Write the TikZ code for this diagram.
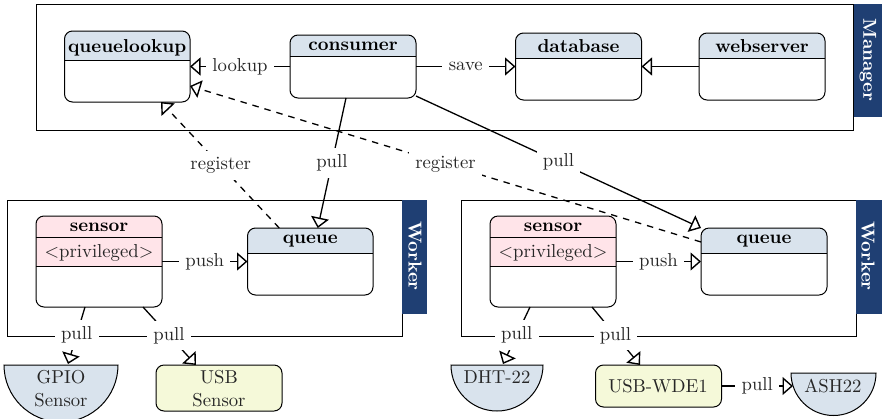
\documentclass[tikz,border=0pt]{standalone}
\usetikzlibrary{arrows.meta}
\definecolor{hdr}{HTML}{D9E3ED}
\definecolor{pinkh}{HTML}{FFE4E9}
\definecolor{yel}{HTML}{F5F9D9}
\definecolor{tabb}{HTML}{1F3F73}
\tikzset{
  every node/.style={text=black!85},
  frame/.style={draw=black,line width=1pt,inner sep=0pt,outer sep=0pt,anchor=north west},
  boxo/.style={frame,rounded corners=8pt},
  ttl/.style={anchor=base,inner sep=0pt,scale=1.87,font=\bfseries,text=black},
  txt/.style={anchor=base,inner sep=0pt,scale=1.87},
  lbl/.style={fill=white,inner sep=3.4pt,scale=1.87},
  conn/.style={line width=1.3pt,draw=black,-{Triangle[length=10.5pt,width=18pt,fill=white,line width=1.4pt]}},
  dconn/.style={conn,dash pattern=on 6.5pt off 6pt},
  tabn/.style={fill=tabb,inner sep=0pt,outer sep=0pt,anchor=north west},
  tabt/.style={text=white,rotate=-90,scale=1.87,font=\bfseries,inner sep=0pt},
  semi/.style={fill=hdr,draw=black,line width=1pt},
}
% name, x1, y1, x2, y2, line y, colour, title, title baseline
\newcommand{\umlbox}[9]{%
  \fill[white,rounded corners=8pt] (#2,#3) rectangle (#4,#5);
  \fill[#7] (#2,#6) [rounded corners=8pt] -- (#2,#3) -- (#4,#3) [sharp corners] -- (#4,#6) -- cycle;
  \node[boxo,minimum width={(#4-#2)*1pt},minimum height={(#5-#3)*1pt}] (#1) at (#2,#3) {};
  \draw[line width=1pt,draw=black] (#1.west |- 0,#6) -- (#1.east |- 0,#6);
  \node[ttl] (#1-title) at ({(#2+#4)/2},#9) {#8};
}
\begin{document}
\begin{tikzpicture}[x=1pt,y=-1pt]
\useasboundingbox (0,0) rectangle (882,418);
\clip (0,0) rectangle (882,418);
% frames
\node[frame,minimum width=817pt,minimum height=126pt] (manager) at (36,4) {};
\node[frame,minimum width=395pt,minimum height=136pt] (workerL) at (7,200) {};
\node[frame,minimum width=395pt,minimum height=136pt] (workerR) at (461,200) {};
\node[tabn,minimum width=29pt,minimum height=113pt] (tabM) at (853.5,4) {};
\node[tabn,minimum width=25pt,minimum height=114pt] (tabL) at (402,200) {};
\node[tabn,minimum width=26pt,minimum height=114pt] (tabR) at (856,200) {};
\node[tabt] (tabMt) at (868,60) {Manager};
\node[tabt] (tabLt) at (415,256) {Worker};
\node[tabt] (tabRt) at (868,256) {Worker};
% boxes
\umlbox{queuelookup}{64.5}{31}{190}{102}{60}{hdr}{queuelookup}{52}
\umlbox{consumer}{290}{35}{416}{98}{56}{hdr}{consumer}{50}
\umlbox{database}{515.5}{33}{641.5}{100}{58.5}{hdr}{database}{52}
\umlbox{webserver}{699}{33}{825}{100}{58.5}{hdr}{webserver}{52}
\umlbox{sensorL}{36}{216}{162}{307}{266}{pinkh}{sensor}{231}
\umlbox{queueL}{247.5}{228}{373}{295}{253}{hdr}{queue}{243}
\umlbox{sensorR}{490}{216}{616}{307}{266}{pinkh}{sensor}{231}
\umlbox{queueR}{701}{228}{827}{295}{253}{hdr}{queue}{243}
\draw[line width=1pt,draw=black] (sensorL.west |- 0,237) -- (sensorL.east |- 0,237);
\draw[line width=1pt,draw=black] (sensorR.west |- 0,237) -- (sensorR.east |- 0,237);
\node[txt] (privL) at (99,257) {$<$privileged$>$};
\node[txt] (privR) at (553,257) {$<$privileged$>$};
% devices
\draw[semi] (4,365) arc[start angle=180,end angle=360,radius=57pt] -- cycle;
\draw[semi] (451,365) arc[start angle=180,end angle=360,radius=46pt] -- cycle;
\draw[semi] (791,373) arc[start angle=180,end angle=360,radius=42.5pt] -- cycle;
\coordinate (gpio) at (68,364);
\coordinate (dht) at (503,364);
\coordinate (ash) at (793,386);
\node[txt] (gpioa) at (61,383) {GPIO};
\node[txt] (gpiob) at (61,406) {Sensor};
\node[txt] (dhta) at (497,383) {DHT-22};
\node[txt] (asha) at (833,392) {ASH22};
\node[boxo,fill=yel,minimum width=126pt,minimum height=46pt] (usb) at (156,365) {};
\node[boxo,fill=yel,minimum width=126pt,minimum height=42pt] (wde) at (595.5,365) {};
\node[txt] (usba) at (219,383) {USB};
\node[txt] (usbb) at (219,406) {Sensor};
\node[txt] (wdea) at (658,392) {USB-WDE1};
% connectors
\draw[conn] (consumer.west) -- node[lbl] (l1) {lookup} (queuelookup.east);
\draw[conn] (consumer.east) -- node[lbl] (l2) {save} (database.west);
\draw[conn] (webserver.west) -- (database.east);
\draw[conn] ([xshift=-7pt]consumer.south) -- node[lbl,pos=0.5] (l3) {pull} ([xshift=7.5pt]queueL.north);
\draw[conn] ([yshift=2pt]consumer.south east) -- node[lbl,pos=0.5] (l4) {pull} (queueR.north west);
\draw[dconn] ([xshift=-31pt]queueL.north) -- node[lbl,pos=0.495] (l5) {register} ([xshift=-29pt]queuelookup.south east);
\draw[dconn] ([yshift=19.5pt]queueR.west) -- node[lbl,pos=0.5] (l6) {register} ([yshift=-19.5pt]queuelookup.east);
\draw[conn] (sensorL.east) -- node[lbl] (l7) {push} (queueL.west);
\draw[conn] (sensorR.east) -- node[lbl] (l8) {push} (queueR.west);
\draw[conn] ([xshift=-14pt]sensorL.south) -- node[lbl,pos=0.49] (l9) {pull} (gpio);
\draw[conn] ([xshift=44pt]sensorL.south) -- node[lbl,pos=0.49] (l10) {pull} ([xshift=40pt]usb.north west);
\draw[conn] ([xshift=-23pt]sensorR.south) -- node[lbl,pos=0.49] (l11) {pull} (dht);
\draw[conn] ([xshift=39pt]sensorR.south) -- node[lbl,pos=0.49] (l12) {pull} ([xshift=44.5pt]wde.north west);
\draw[conn] (wde.east) -- node[lbl,pos=0.5] (l13) {pull} (ash);
\end{tikzpicture}
\end{document}
